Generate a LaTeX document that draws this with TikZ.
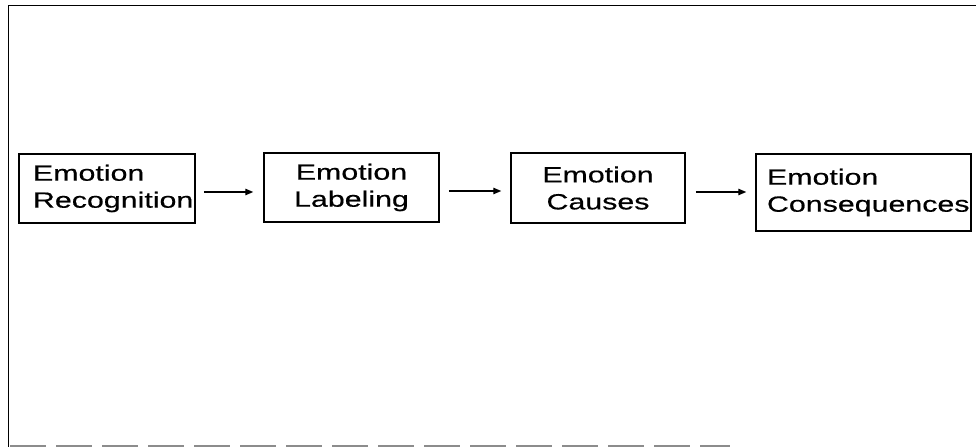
\documentclass[tikz,border=0pt]{standalone}
\usepackage{fontspec}
\usetikzlibrary{arrows.meta}
\newfontfamily\boxfont[FakeStretch=1.38,FakeBold=0.5]{Liberation Sans}
\begin{document}
\begin{tikzpicture}[x=1bp,y=-1bp,
  stagebox/.style={draw=black, line width=1.5bp, rectangle, inner ysep=0bp,
    font=\boxfont\fontsize{22bp}{27bp}\selectfont},
  leftbox/.style={stagebox, align=left, inner xsep=0bp},
  midbox/.style={stagebox, align=center, inner xsep=0bp},
  flow/.style={line width=1.3bp, -{Triangle[length=8bp,width=6.5bp]}},
  frame/.style={line width=1.8bp, black},
  baseline/.style={line width=1.6bp, black!45, dash pattern=on 36bp off 10bp}]
\useasboundingbox (0,0) rectangle (976,447);
% outer frame: top and left edges, faint broken bottom edge
\draw[frame] (8.5,447) -- (8.5,5.5) -- (976,5.5);
\draw[baseline] (10,446) -- (730,446);
% the four stages
\node[leftbox, text width=176bp, minimum width=176bp, minimum height=69bp] (b1) at (107,188.5) {\hspace*{14bp}\rlap{Emotion}\\\hspace*{14bp}\rlap{Recognition}};
\node[midbox, text width=175bp, minimum width=175bp, minimum height=69bp] (b2) at (351.5,187.5) {Emotion\\Labeling};
\node[midbox, text width=174bp, minimum width=174bp, minimum height=70bp] (b3) at (598,188) {Emotion\\Causes};
\node[leftbox, text width=215bp, minimum width=215bp, minimum height=77bp] (b4) at (863.5,192.5) {\hspace*{11bp}\rlap{Emotion}\\\hspace*{11bp}\rlap{Consequences}};
% arrows between the stages
\draw[flow, shorten <=8bp, shorten >=10bp] ([yshift=-3.5bp]b1.east) -- ([yshift=-3.5bp]b1.east -| b2.west);
\draw[flow, shorten <=9bp, shorten >=9bp] ([yshift=-3.5bp]b2.east) -- ([yshift=-3.5bp]b2.east -| b3.west);
\draw[flow, shorten <=10bp, shorten >=9bp] ([yshift=-4bp]b3.east) -- ([yshift=-4bp]b3.east -| b4.west);
\end{tikzpicture}
\end{document}
